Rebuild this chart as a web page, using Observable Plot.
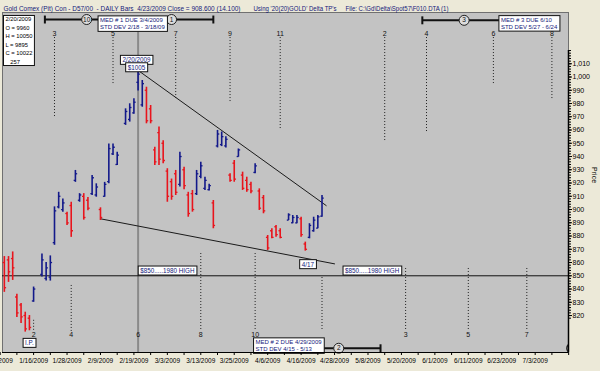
<!DOCTYPE html>
<html><head><meta charset="utf-8">
<script src="https://cdn.jsdelivr.net/npm/d3@7"></script>
<script src="https://cdn.jsdelivr.net/npm/@observablehq/plot@0.6"></script>
<style>
html,body{margin:0;padding:0;background:#ece9d8;}
svg{display:block;}
svg text{white-space:pre;}
</style></head><body>
<script>
// ---- daily bars (Gold Comex pit) ----
const dates = ["1/7/2009","1/8/2009","1/9/2009","1/12/2009","1/13/2009","1/14/2009","1/15/2009","1/16/2009","1/20/2009","1/21/2009","1/22/2009","1/23/2009","1/26/2009","1/27/2009","1/28/2009","1/29/2009","1/30/2009","2/2/2009","2/3/2009","2/4/2009","2/5/2009","2/6/2009","2/9/2009","2/10/2009","2/11/2009","2/12/2009","2/13/2009","2/17/2009","2/18/2009","2/19/2009","2/20/2009","2/23/2009","2/24/2009","2/25/2009","2/26/2009","2/27/2009","3/2/2009","3/3/2009","3/4/2009","3/5/2009","3/6/2009","3/9/2009","3/10/2009","3/11/2009","3/12/2009","3/13/2009","3/16/2009","3/17/2009","3/18/2009","3/19/2009","3/20/2009","3/23/2009","3/24/2009","3/25/2009","3/26/2009","3/27/2009","3/30/2009","3/31/2009","4/1/2009","4/2/2009","4/3/2009","4/6/2009","4/7/2009","4/8/2009","4/9/2009","4/13/2009","4/14/2009","4/15/2009","4/16/2009","4/17/2009","4/20/2009","4/21/2009","4/22/2009","4/23/2009"];
const open  = [860,862,863,834,828,820,818,831,851,848,849,875,902,900,897,903,922,907,910,907,912,911,900,910,921,942,934,965,968,973,996,979,990,976,945,958,950,929,921,927,919,930,911,912,912,925,916,915,905,948,949,948,926,935,940,926,922,919,928,914,909,879,884,887,884,892,890,890,893,874,879,884,886,895];
const high  = [864.5,864.5,868,836,829,822.5,820,841.5,866.5,860,865,902,913,908,898,905.5,929.5,912,912,909,925.7,919.4,901.3,920.5,949.5,949.5,943.3,976,979.8,983.6,1005,997.4,992.3,978.5,947,962.2,952,930.8,923,929.5,943.3,932,913,914.4,929.5,935.7,924.4,919,906.8,959.7,958.5,955,927,937,945.7,928.2,924.4,920.6,934.5,915.6,910.6,880.4,885.5,888,885.5,896.8,895.5,895.5,894.2,875.4,889.3,894.2,895.5,910.5];
const low   = [837.5,845,846.5,818.5,814,807.5,808.5,830,849,846,846,873,900.5,898,888,879,920.5,905.5,892,899,910.6,909.3,891.7,909.3,919.4,940.8,933.2,963.5,966,972,989.5,977.2,964.7,964.7,933.2,933.2,934.5,905.5,907,910.6,917,915,894.2,898,910.6,923.2,914.4,914,885.5,946.5,947.5,946.5,920.6,920.6,939.5,914.4,913,912,927,899.3,896.8,869.1,877.9,879,877.9,891.7,889.3,889.3,879.1,868.6,877.9,882.9,885.5,894.2];
const close = [841,853,856,822,819,810,811,840,862,856,860,899,910,905,890,884,927,911,894,901,924,917,894,919,946,947,941,974,977,981,1002.2,995,967,967,936,938,937,910,910,913,940,918,897,900,927,933,922,918,888,957,955,953,922,923,945,916,915,914,933,901,899,871,879,881,879,896,894,894,881,870,888,892,894.5,908.6];

// ---- axis tick labels ----
const xTickDates = ["1/6/2009","1/16/2009","1/28/2009","2/9/2009","2/19/2009","3/3/2009","3/13/2009","3/25/2009","4/6/2009","4/16/2009","4/28/2009","5/8/2009","5/20/2009","6/1/2009","6/11/2009","6/23/2009","7/3/2009"];
const yTicks = [820,830,840,850,860,870,880,890,900,910,920,930,940,950,960,970,980,990,1000,1010];

// ---- trend lines (date, price) ----
const upperTrendDates = ["2/20/2009","4/24/2009"], upperTrendPrices = [1005, 903];
const lowerTrendDates = ["2/9/2009","4/28/2009"], lowerTrendPrices = [893, 859];
const highLevel = 850;

// ---- cycle annotations ----
const topCycleLabels = ["3","5","7","9","11","2","4","6","8"];
const topCycleDates  = ["1/23/2009","2/12/2009","3/5/2009","3/24/2009","4/9/2009","5/14/2009","5/28/2009","6/19/2009","7/9/2009"];
const topCycleEnds   = [968.7,993.6,983.8,980.8,959.7,950.6,958.2,993.6,982.3];
const botCycleLabels = ["2","4","6","8","10","","3","5","7"];
const botCycleDates  = ["1/16/2009","1/29/2009","2/20/2009","3/13/2009","4/1/2009","4/23/2009","5/21/2009","6/11/2009","7/1/2009"];
const botCycleTops   = [816.4,842.7,null,866.8,866.8,848.7,855.5,855.5,855.5];

const infoText = "2/20/2009\nO = 9960\nH = 10050\nL = 9895\nC = 10022\n   257";
const titleParts = ["Gold Comex (Pit) Con - D57/00  - DAILY Bars  4/23/2009 Close = 908.600 (14.100)", "Using '20(20)GOLD' Delta TP's", "File: C:\\Gd\\Delta\\Spot57\\F010.DTA (1)"];

// weekday index (trading-day axis, Mon-Fri) counted from 1/6/2009
function wd(s){const [m,d,y]=s.split("/").map(Number);const days=Math.round((Date.UTC(y,m-1,d)-Date.UTC(2009,0,5))/864e5);return Math.floor(days/7)*5+(days%7)-1;}

const bars = dates.map((d,k)=>({i:wd(d),o:open[k],h:high[k],l:low[k],c:close[k]}));
const up = bars.filter(b=>b.c>=b.o), dn = bars.filter(b=>b.c<b.o);
const upper = upperTrendDates.map((d,k)=>({i:wd(d),p:upperTrendPrices[k]}));
const lower = lowerTrendDates.map((d,k)=>({i:wd(d),p:lowerTrendPrices[k]}));
const topCycles = topCycleLabels.map((n,k)=>({n,i:wd(topCycleDates[k]),end:topCycleEnds[k]}));
const botCycles = botCycleLabels.map((n,k)=>({n,i:wd(botCycleDates[k]),top:botCycleTops[k]}));
const xLabel = new Map(xTickDates.map(d=>[wd(d),d]));

const cycleBars = [
  {a:10.7,b:wd("3/18/2009"),p:1043.4},
  {a:wd("5/27/2009"),b:wd("6/24/2009"),p:1042.8},
  {a:wd("4/15/2009"),b:wd("5/13/2009"),p:795.3}
];
const cycleCircles = [
  {n:"10",i:20.7,p:1043.4},{n:"1",i:wd("3/4/2009"),p:1043.4},
  {n:"3",i:wd("6/10/2009"),p:1042.8},{n:"2",i:wd("4/29/2009"),p:795.3}
];
const notesCenter = [
  {t:"2/20/2009",i:32.6,p:1012.6},{t:"$1005",i:32.6,p:1007.0},
  {t:"$850.....1980 HIGH",i:wd("3/3/2009"),p:853.6},
  {t:"$850.....1980 HIGH",i:wd("5/11/2009"),p:853.6},
  {t:"4/17",i:73.6,p:858.4},{t:"I.P.",i:wd("1/15/2009"),p:799}
];
const notesLeft = [
  {t:"MED # 1 DUE 3/4/2009\nSTD DEV 2/18 - 3/18/09",i:23.9,p:1040.6},
  {t:"MED # 3 DUE 6/10\nSTD DEV 5/27 - 6/24",i:119.8,p:1040.8},
  {t:"MED # 2 DUE 4/29/2009\nSTD DEV 4/15 - 5/13",i:61.1,p:797.6}
];

const X0=0.56, X1=135.97, Y0=792.1, Y1=1048.7;
const UP="#13198a", DN="#e8141c", NAVY="#14207a";
const barMarks=(data,color)=>[
  Plot.ruleX(data,{x:"i",y1:"l",y2:"h",stroke:color,strokeWidth:1.6}),
  Plot.link(data,{x1:d=>d.i-0.42,x2:"i",y1:"o",y2:"o",stroke:color,strokeWidth:1.3}),
  Plot.link(data,{x1:"i",x2:d=>d.i+0.42,y1:"c",y2:"c",stroke:color,strokeWidth:1.3})
];

const chart = Plot.plot({
  width:600,height:371,marginTop:12,marginBottom:19,marginLeft:2,marginRight:32,
  style:{background:"#ece9d8",fontFamily:"'Liberation Sans',Arial,sans-serif",fontSize:"6.5px",color:"#000"},
  x:{domain:[X0,X1]},
  y:{domain:[Y0,Y1],label:null},
  marks:[
    Plot.frame({fill:"#c3c3c3",stroke:"#707070"}),
    // dotted cycle lines
    Plot.ruleX(topCycles,{x:"i",y1:1029.8,y2:"end",stroke:"#222",strokeDasharray:"1,2"}),
    Plot.ruleX(botCycles.filter(d=>d.top!=null),{x:"i",y1:"top",y2:808,stroke:"#222",strokeDasharray:"1,2"}),
    // 2/20 marker line
    Plot.ruleX([wd("2/20/2009")],{y1:Y0,y2:1034.3,stroke:"#8a8a8a",strokeWidth:2}),
    Plot.ruleY([highLevel],{stroke:"#111",strokeWidth:1}),
    Plot.line(upper,{x:"i",y:"p",stroke:"#1a1a1a",strokeWidth:1}),
    Plot.line(lower,{x:"i",y:"p",stroke:"#1a1a1a",strokeWidth:1}),
    ...barMarks(up,UP),...barMarks(dn,DN),
    // cycle numbers
    Plot.text(topCycles,{x:"i",y:1032.6,text:"n",fontSize:7,fill:"#111"}),
    Plot.text(botCycles,{x:"i",y:805.6,text:"n",fontSize:7,fill:"#111"}),
    // cycle bars
    Plot.link(cycleBars,{x1:"a",x2:"b",y1:"p",y2:"p",stroke:"#111",strokeWidth:2}),
    Plot.link(cycleBars,{x1:"a",x2:"a",y1:d=>d.p-3,y2:d=>d.p+3,stroke:"#111",strokeWidth:2}),
    Plot.link(cycleBars,{x1:"b",x2:"b",y1:d=>d.p-3,y2:d=>d.p+3,stroke:"#111",strokeWidth:2}),
    Plot.dot(cycleCircles,{x:"i",y:"p",r:5,fill:"#dcdcdc",stroke:"#222",strokeWidth:1}),
    Plot.dot([{i:X1+0.8,p:795.3}],{x:"i",y:"p",r:5,fill:"#dcdcdc",stroke:"#222",clip:true}),
    Plot.text(cycleCircles,{x:"i",y:"p",text:"n",fontSize:6.5,fill:"#111"}),
    // boxed notes
    Plot.text(notesCenter,{x:"i",y:"p",text:"t",fontSize:6.3,fill:NAVY,ariaDescription:"boxed"}),
    Plot.text(notesLeft,{x:"i",y:"p",text:"t",textAnchor:"start",lineHeight:1.25,fontSize:6.0,fill:NAVY,ariaDescription:"boxed"}),
    Plot.text([infoText],{frameAnchor:"top-left",dx:3,dy:3,lineAnchor:"top",textAnchor:"start",lineHeight:1.45,fontSize:5.8,fill:"#000",ariaDescription:"boxed"}),
    // title
    Plot.text(titleParts,{frameAnchor:"top-left",dy:-6,fontSize:7,textAnchor:"start",fill:NAVY,ariaDescription:"title"}),
    // axes
    Plot.ruleY([Y0],{stroke:"#000",strokeWidth:1.2}),
    Plot.ruleX([X1],{y1:Y0,y2:1020,stroke:"#000",strokeWidth:1.5}),
    Plot.axisY({anchor:"right",ticks:d3.range(818,1021,2),tickSize:2,tickFormat:()=>"",label:null}),
    Plot.axisY({anchor:"right",ticks:yTicks,tickSize:3,tickPadding:1,tickFormat:d3.format(","),fontSize:7,label:null}),
    Plot.text([{t:"Price",p:920}],{text:"t",y:"p",frameAnchor:"right",dx:26,rotate:90,fontSize:7,fill:"#000"}),
    Plot.axisX({anchor:"bottom",ticks:d3.range(0,137,4),tickSize:3,tickFormat:()=>"",label:null}),
    Plot.axisX({anchor:"bottom",ticks:[...xLabel.keys()],tickSize:0,tickPadding:6,tickFormat:i=>xLabel.get(i),fontSize:6.5,label:null})
  ]
});
document.body.append(chart);
// title segments: fit to the reference's start positions and widths
const titleLayout = [[3,237],[253,83],[345,103]];
chart.querySelectorAll('g[aria-description="title"] text').forEach((t,k)=>{
  const [x0,w] = titleLayout[k];
  const hasX = t.hasAttribute("x");
  t.setAttribute("x", hasX ? x0 : x0 - 2);
  t.setAttribute("textLength", w); t.setAttribute("lengthAdjust","spacingAndGlyphs");
});
// draw white boxes behind the annotation texts
for (const g of chart.querySelectorAll('g[aria-description="boxed"]')) {
  for (const t of g.querySelectorAll("text")) {
    const b = t.getBBox();
    const r = document.createElementNS("http://www.w3.org/2000/svg","rect");
    r.setAttribute("x",b.x-2);r.setAttribute("y",b.y-1);
    r.setAttribute("width",b.width+4);r.setAttribute("height",b.height+2);
    r.setAttribute("fill","#fff");r.setAttribute("stroke","#111");r.setAttribute("stroke-width","1");
    if (t.getAttribute("transform")) r.setAttribute("transform",t.getAttribute("transform"));
    t.parentNode.insertBefore(r,t);
  }
}
</script>
</body></html>
